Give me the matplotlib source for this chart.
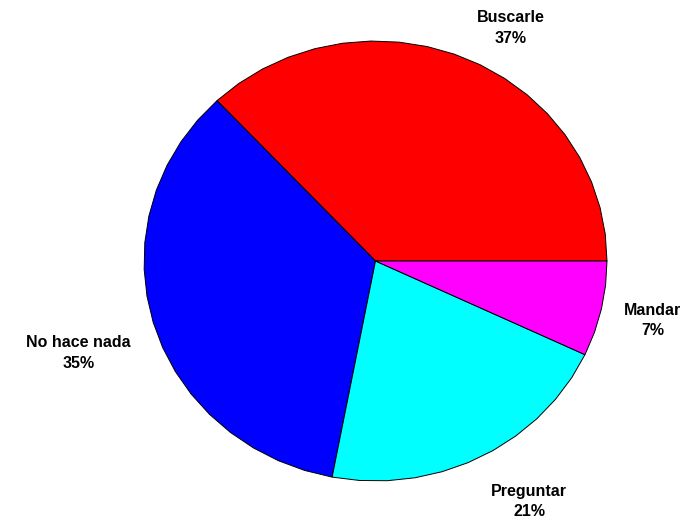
import math

import numpy as np
import matplotlib
matplotlib.use('Agg')
import matplotlib.pyplot as plt

labels = ["Buscarle", "No hace nada", "Preguntar", "Mandar"]
values = [37, 35, 21, 7]
colors = ['#ff0000', '#0000ff', '#00ffff', '#ff00ff']

plt.rcParams['font.family'] = ['Liberation Sans', 'DejaVu Sans']

fig = plt.figure(figsize=(7, 5.2), dpi=100)
# pie bounding box in pixels: x 144..607, y 41..481 (from top)
ax = fig.add_axes([144 / 700, 39 / 520, 463 / 700, 440 / 520])
ax.set_xlim(-1, 1)
ax.set_ylim(-1, 1)
ax.axis('off')

total = float(sum(values))
theta0 = 0.0
for lab, v, c in zip(labels, values, colors):
    frac = v / total
    span = frac * 2 * np.pi
    n = max(1, math.ceil(frac * 50))  # coarse polygon like old matlab pie
    th = theta0 + span * np.arange(n + 1) / n
    xs = np.concatenate([[0], np.cos(th), [0]])
    ys = np.concatenate([[0], np.sin(th), [0]])
    ax.fill(xs, ys, facecolor=c, edgecolor='black', linewidth=0.7, clip_on=False)

    mid = theta0 + span / 2
    xt, yt = 1.1 * np.cos(mid), 1.1 * np.sin(mid)
    ha = 'left' if xt > 0 else 'right'
    if abs(np.sin(mid)) < 0.25:
        va = 'center'
    else:
        va = 'bottom' if yt > 0 else 'top'
    ax.annotate(f'{lab}\n{round(frac * 100)}%', (xt, yt), xytext=(0, -5), textcoords='offset points',
                ha=ha, va=va, multialignment='center', fontsize=11.5, fontweight='bold',
                linespacing=1.45, annotation_clip=False)
    theta0 += span

fig.savefig('out.png', dpi=100, facecolor='white')
